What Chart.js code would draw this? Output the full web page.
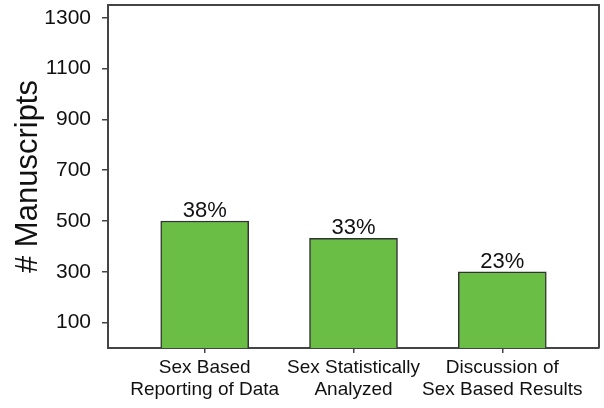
<!DOCTYPE html>
<html>
<head>
<meta charset="utf-8">
<script src="https://cdn.jsdelivr.net/npm/chart.js@4"></script>
<style>
  html, body { margin: 0; padding: 0; background: #fff; }
  #wrap { width: 604px; height: 408px; }
</style>
</head>
<body>
<div id="wrap"><canvas id="myChart"></canvas></div>
<script>
// Datos
const categories = [
  ['Sex Based', 'Reporting of Data'],
  ['Sex Statistically', 'Analyzed'],
  ['Discussion of', 'Sex Based Results']
];
const manuscripts = [500, 432, 300];
const percentLabels = ['38%', '33%', '23%'];
const yTicks = [100, 300, 500, 700, 900, 1100, 1300];

const axisColor = '#444444';
const fontFamily = 'Arial, "Liberation Sans", sans-serif';

// Marco superior y derecho del area del grafico
const frame = {
  id: 'frame',
  afterDraw(chart) {
    const { ctx, chartArea: a } = chart;
    ctx.save();
    ctx.strokeStyle = axisColor;
    ctx.lineWidth = 2;
    ctx.beginPath();
    ctx.moveTo(a.left, a.top);
    ctx.lineTo(a.right, a.top);
    ctx.lineTo(a.right, a.bottom);
    ctx.stroke();
    ctx.restore();
  }
};

// Porcentajes encima de cada barra
const barLabels = {
  id: 'barLabels',
  afterDatasetsDraw(chart) {
    const { ctx } = chart;
    const meta = chart.getDatasetMeta(0);
    ctx.save();
    ctx.fillStyle = '#111';
    ctx.font = '22px ' + fontFamily;
    ctx.textAlign = 'center';
    ctx.textBaseline = 'alphabetic';
    meta.data.forEach((bar, i) => {
      ctx.fillText(percentLabels[i], bar.x, bar.y - 4);
    });
    ctx.restore();
  }
};

const ctx1 = document.getElementById('myChart').getContext('2d');
new Chart(ctx1, {
  type: 'bar',
  data: {
    datasets: [{
      data: manuscripts.map((v, i) => ({ x: i, y: v })),
      backgroundColor: '#6abd45',
      borderColor: '#333333',
      borderWidth: 1.5,
      barThickness: 88
    }]
  },
  options: {
    responsive: true,
    maintainAspectRatio: false,
    animation: false,
    layout: { padding: { top: 5, right: 5, left: 0, bottom: 0 } },
    plugins: {
      legend: { display: false },
      tooltip: { enabled: false }
    },
    scales: {
      x: {
        type: 'linear',
        offset: false,
        min: -0.65,
        max: 2.65,
        afterBuildTicks: axis => { axis.ticks = categories.map((c, i) => ({ value: i })); },
        afterFit: axis => { axis.height = 60; axis.paddingLeft = 0; axis.paddingRight = 0; },
        grid: { drawOnChartArea: false, drawTicks: true, tickLength: 5, color: axisColor, lineWidth: 1.5, offset: false },
        border: { color: axisColor, width: 2 },
        ticks: {
          autoSkip: false,
          maxRotation: 0,
          padding: 3,
          color: '#111',
          font: { family: fontFamily, size: 19, lineHeight: 1.2 },
          callback: v => categories[v]
        }
      },
      y: {
        min: 0,
        max: 1350,
        afterBuildTicks: axis => { axis.ticks = yTicks.map(v => ({ value: v })); },
        afterFit: axis => { axis.width = 108; axis.paddingTop = 0; axis.paddingBottom = 0; },
        grid: { drawOnChartArea: false, drawTicks: true, tickLength: 6, color: axisColor, lineWidth: 1.5 },
        border: { color: axisColor, width: 2 },
        ticks: {
          padding: 11,
          color: '#111',
          font: { family: fontFamily, size: 21 },
          callback: v => String(v)
        },
        title: {
          display: true,
          text: '# Manuscripts',
          color: '#111',
          font: { family: fontFamily, size: 31 },
          padding: { top: 10, bottom: 0 }
        }
      }
    }
  },
  plugins: [frame, barLabels]
});
</script>
</body>
</html>
